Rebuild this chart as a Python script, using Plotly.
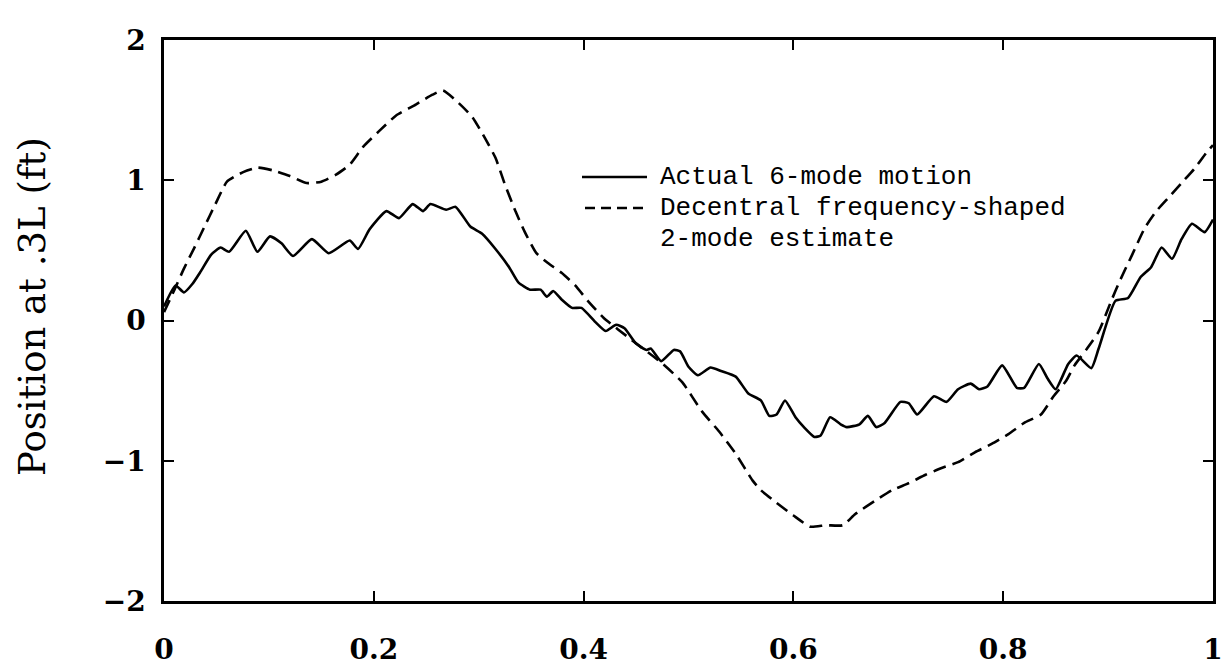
import plotly.graph_objects as go

# ---- data ----
actual_x = [0, 0.011, 0.019, 0.027, 0.035, 0.045, 0.054, 0.062, 0.078, 0.089, 0.101, 0.112,
            0.123, 0.141, 0.157, 0.177, 0.185, 0.196, 0.212, 0.224, 0.237, 0.247, 0.254, 0.269,
            0.278, 0.292, 0.303, 0.316, 0.329, 0.338, 0.349, 0.359, 0.365, 0.371, 0.379, 0.389,
            0.398, 0.411, 0.421, 0.431, 0.439, 0.450, 0.460, 0.464, 0.474, 0.486, 0.492, 0.500,
            0.509, 0.521, 0.531, 0.545, 0.557, 0.569, 0.577, 0.584, 0.592, 0.602, 0.610, 0.620,
            0.626, 0.635, 0.645, 0.651, 0.663, 0.671, 0.679, 0.687, 0.702, 0.710, 0.718, 0.734,
            0.746, 0.757, 0.769, 0.777, 0.785, 0.799, 0.813, 0.820, 0.834, 0.842, 0.850, 0.862,
            0.870, 0.884, 0.891, 0.907, 0.919, 0.931, 0.941, 0.951, 0.961, 0.970, 0.980, 0.992, 1.0]
actual_y = [0.10, 0.25, 0.20, 0.26, 0.35, 0.47, 0.52, 0.49, 0.64, 0.49, 0.60, 0.55,
            0.46, 0.58, 0.48, 0.57, 0.51, 0.65, 0.78, 0.73, 0.83, 0.78, 0.83, 0.79,
            0.81, 0.67, 0.62, 0.51, 0.38, 0.27, 0.22, 0.22, 0.17, 0.21, 0.15, 0.09,
            0.09, -0.01, -0.075, -0.03, -0.055, -0.165, -0.21, -0.20, -0.29, -0.21, -0.22, -0.33,
            -0.39, -0.335, -0.36, -0.40, -0.52, -0.57, -0.68, -0.67, -0.57, -0.69, -0.76, -0.83,
            -0.82, -0.69, -0.74, -0.76, -0.74, -0.68, -0.76, -0.73, -0.58, -0.59, -0.67, -0.54,
            -0.58, -0.49, -0.45, -0.49, -0.47, -0.32, -0.48, -0.48, -0.31, -0.41, -0.49, -0.31,
            -0.25, -0.34, -0.20, 0.14, 0.16, 0.31, 0.38, 0.52, 0.44, 0.58, 0.69, 0.63, 0.72]

estimate_x = [0, 0.01, 0.019, 0.029, 0.038, 0.049, 0.060, 0.076, 0.089, 0.104, 0.120, 0.136,
              0.150, 0.164, 0.177, 0.190, 0.205, 0.221, 0.240, 0.256, 0.266, 0.281, 0.294, 0.306,
              0.316, 0.325, 0.335, 0.344, 0.355, 0.366, 0.379, 0.392, 0.404, 0.419, 0.446, 0.474,
              0.494, 0.513, 0.529, 0.545, 0.561, 0.569, 0.584, 0.600, 0.616, 0.631, 0.647, 0.659,
              0.679, 0.694, 0.710, 0.726, 0.742, 0.757, 0.773, 0.789, 0.805, 0.820, 0.836, 0.848,
              0.860, 0.868, 0.880, 0.891, 0.903, 0.911, 0.923, 0.935, 0.946, 0.958, 0.970, 0.982,
              0.994, 1.0]
estimate_y = [0.06, 0.22, 0.37, 0.52, 0.66, 0.83, 0.99, 1.06, 1.09, 1.07, 1.03, 0.98,
              0.99, 1.04, 1.11, 1.24, 1.35, 1.46, 1.54, 1.61, 1.64, 1.55, 1.45, 1.30,
              1.16, 0.97, 0.78, 0.63, 0.48, 0.41, 0.34, 0.25, 0.14, 0.02, -0.14, -0.30,
              -0.44, -0.65, -0.79, -0.95, -1.14, -1.21, -1.30, -1.39, -1.47, -1.46, -1.46, -1.38,
              -1.28, -1.21, -1.16, -1.10, -1.05, -1.01, -0.94, -0.88, -0.81, -0.73, -0.67, -0.54,
              -0.43, -0.32, -0.20, -0.08, 0.14, 0.28, 0.47, 0.66, 0.78, 0.88, 0.98, 1.08,
              1.20, 1.25]

x_tickvals = [0, 0.2, 0.4, 0.6, 0.8, 1]
x_ticktext = ["0", "0.2", "0.4", "0.6", "0.8", "1"]
y_tickvals = [-2, -1, 0, 1, 2]
y_ticktext = ["\u22122", "\u22121", "0", "1", "2"]

legend_lines = ["Actual 6-mode motion", "Decentral frequency-shaped", "2-mode estimate"]
y_title = "Position at .3L (ft)"

# ---- figure ----
fig = go.Figure()
fig.add_trace(go.Scatter(x=actual_x, y=actual_y, mode="lines", name=legend_lines[0],
                         line=dict(color="black", width=2.6, shape="spline", smoothing=0.5),
                         showlegend=False))
fig.add_trace(go.Scatter(x=estimate_x, y=estimate_y, mode="lines",
                         name=legend_lines[1] + " " + legend_lines[2],
                         line=dict(color="black", width=2.6, dash="13px,7px",
                                   shape="spline", smoothing=0.5),
                         showlegend=False))

L, R, T, B = 164, 13, 40, 70
W, H = 1226, 671
pw, ph = W - L - R, H - T - B


def px(xp):
    return (xp - L) / pw


def py(yp):
    return (H - B - yp) / ph


# hand-drawn style legend
fig.add_shape(type="line", xref="paper", yref="paper", x0=px(582), x1=px(647),
              y0=py(177), y1=py(177), line=dict(color="black", width=2.4))
fig.add_shape(type="line", xref="paper", yref="paper", x0=px(585), x1=px(645),
              y0=py(208), y1=py(208), line=dict(color="black", width=2.4, dash="10px,6px"))
for txt, yy in zip(legend_lines, [177, 208, 239]):
    fig.add_annotation(text=txt, xref="paper", yref="paper", x=px(658), y=py(yy),
                       xanchor="left", yanchor="middle", showarrow=False,
                       font=dict(family="Liberation Mono", size=26, color="black"))

fig.add_annotation(text=y_title, xref="paper", yref="paper", x=px(32), y=py(307),
                   xanchor="center", yanchor="middle", textangle=-90, showarrow=False,
                   font=dict(family="DejaVu Serif", size=37, color="black"))

axis_common = dict(showline=True, linecolor="black", linewidth=2.5, mirror="ticks",
                   ticks="inside", ticklen=10, tickwidth=2, tickcolor="black",
                   showgrid=False, zeroline=False, automargin=False,
                   tickfont=dict(family="DejaVu Serif", size=28, color="black", weight="bold"))

fig.update_xaxes(range=[0, 1], tickvals=x_tickvals, ticktext=x_ticktext,
                 ticklabelstandoff=22, ticklabeloverflow="allow", **axis_common)
fig.update_yaxes(range=[-2, 2], tickvals=y_tickvals, ticktext=y_ticktext,
                 ticklabelstandoff=10, **axis_common)

fig.update_layout(width=W, height=H, margin=dict(l=L, r=R, t=T, b=B, autoexpand=False),
                  paper_bgcolor="white", plot_bgcolor="white")

fig.write_html("out.html")
